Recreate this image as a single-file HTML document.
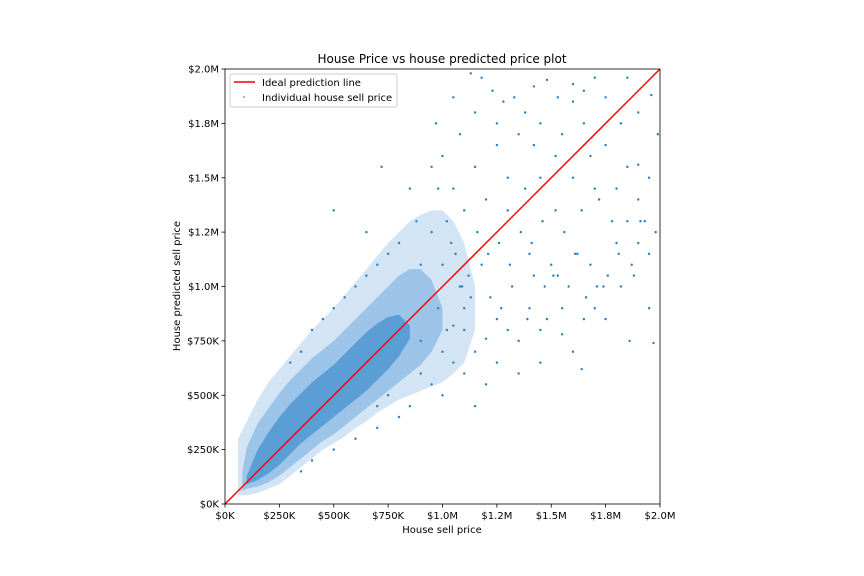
<!DOCTYPE html>
<html><head><meta charset="utf-8"><style>
body{margin:0;background:#fff;}
svg{display:block;font-family:"DejaVu Sans","Liberation Sans",sans-serif;}
</style></head><body>
<svg id="chart" width="864" height="576">
<text x="442" y="63" font-size="12" text-anchor="middle">House Price vs house predicted price plot</text>
<g id="marks"></g>
<g id="axes"></g>
<text x="442" y="533" font-size="10" text-anchor="middle">House sell price</text>
<text x="0" y="0" font-size="10" text-anchor="middle" transform="translate(180,286) rotate(-90)">House predicted sell price</text>
<g>
<rect x="230" y="74" width="167" height="33" rx="2" fill="#fff" fill-opacity="0.85" stroke="#ccc"/>
<line x1="234" y1="82" x2="255" y2="82" stroke="#ff0000" stroke-width="1.5"/>
<text x="262" y="86" font-size="10">Ideal prediction line</text>
<circle cx="244" cy="97" r="0.8" fill="#1f77b4"/>
<text x="262" y="101" font-size="10">Individual house sell price</text>
</g>
</svg>
<script>
const tickValues=[0,250,500,750,1000,1250,1500,1750,2000];
const tickLabels=["$0K","$250K","$500K","$750K","$1.0M","$1.2M","$1.5M","$1.8M","$2.0M"];
const faintX=[60,100,150,200,250,300,350,400,450,500,550,600,650,700,750,800,850,900,950,1000,1050,1100,1150];
const faintLo=[40,40,50,70,90,130,170,210,250,280,310,350,380,420,450,480,500,520,540,560,600,650,800];
const faintHi=[300,380,480,560,620,680,740,800,850,900,960,1020,1080,1140,1200,1250,1300,1330,1350,1350,1300,1200,1000];
const medX=[80,100,150,200,250,300,350,400,450,500,550,600,650,700,750,800,850,900,950,1000];
const medLo=[60,70,80,100,130,170,210,250,290,320,360,400,440,480,520,560,600,640,700,800];
const medHi=[150,260,370,440,510,570,620,670,710,750,800,850,900,950,1000,1050,1080,1080,1030,900];
const denseX=[100,150,200,250,300,350,400,450,500,550,600,650,700,750,800,850];
const denseLo=[90,110,140,180,230,280,320,360,400,440,480,520,570,620,680,760];
const denseHi=[130,250,330,400,460,510,560,600,640,690,740,790,830,860,870,820];
const pointX=[1050,1130,1180,1230,1280,1330,1380,1420,1480,1530,1600,1650,1700,1750,1850,1900,1960,1990,1950,1900,1850,1800,1930,1980,1870,1760,1700,1820,1950,1970,1860,1750,1640,1550,1480,1400,1300,1200,1100,1050,1150,1250,1350,1450,1600,1680,1580,1500,1420,1320,1220,1120,1060,1160,1260,1360,1460,1560,1640,1720,1800,1680,1600,1520,1450,1380,1300,1200,1100,1020,980,1000,1080,1150,1250,1350,1420,1550,1650,1750,1850,1900,1820,1700,1620,1520,1400,1300,1180,1080,1000,950,900,880,800,750,700,650,600,550,500,450,400,350,300,500,650,720,850,950,1050,1000,950,900,1100,1200,1150,1050,850,800,700,600,500,400,350,700,750,900,1000,1100,1250,1350,1450,1550,1650,1950,1900,1780,1600,1450,1250,1150,970,1040,1090,1210,1310,1410,1510,1610,1710,1810,1910,980,1020,1130,1270,1390,1470,1530,1660,1740,1880];
const pointY=[1870,1980,1960,1900,1850,1870,1800,1920,1950,1870,1930,1900,1960,1870,1960,1800,1880,1700,1500,1560,1300,1200,1300,1250,1100,1050,900,1000,1150,740,750,850,620,780,850,900,800,760,900,820,700,650,600,650,700,1100,1000,1100,1050,1000,950,1050,1150,1250,1200,1250,1300,1250,1350,1400,1450,1600,1500,1600,1500,1450,1500,1400,1350,1300,1450,1600,1700,1550,1650,1700,1650,1700,1750,1650,1550,1400,1750,1450,1150,1350,1150,1350,1100,1000,1100,1250,1100,1300,1200,1150,1100,1050,1000,950,900,850,800,700,650,1350,1250,1550,1450,1550,1450,500,550,600,600,550,450,650,450,400,350,300,250,200,150,450,500,750,700,800,850,750,800,900,850,900,1200,1300,1850,1750,1750,1800,1750,1200,1000,1150,1100,1200,1050,1150,1000,1150,1300,900,800,950,900,850,1000,1050,950,1000,1050];
const X0=225,X1=660,Y0=504,Y1=69,MAX=2000;
const sx=v=>X0+(X1-X0)*v/MAX, sy=v=>Y0-(Y0-Y1)*v/MAX;
const NS="http://www.w3.org/2000/svg";
const marks=document.getElementById('marks'), axes=document.getElementById('axes');
function mk(tag,attrs,parent){const e=document.createElementNS(NS,tag);for(const k in attrs)e.setAttribute(k,attrs[k]);parent.appendChild(e);return e;}
function band(xs,lo,hi,fill,name){
  let d="M"+xs.map((x,i)=>sx(x)+","+sy(hi[i])).join(" L");
  d+=" L"+xs.slice().reverse().map((x,j)=>{const i=xs.length-1-j;return sx(x)+","+sy(lo[i]);}).join(" L")+"Z";
  const p=mk('path',{d:d,fill:fill,"stroke-linejoin":"round"},marks);
  
  
}
band(faintX,faintLo,faintHi,"#d3e5f4","density-band-faint");
band(medX,medLo,medHi,"#9cc4e8","density-band-medium");
band(denseX,denseLo,denseHi,"#5b9ed6","density-band-dense");
for(let i=0;i<pointX.length;i++){
  const c=mk('circle',{cx:sx(pointX[i]),cy:sy(pointY[i]),r:1.2,fill:"#2a7fc0"},marks);
  
  
}
const ideal=mk('line',{x1:sx(0),y1:sy(0),x2:sx(MAX),y2:sy(MAX),stroke:"#ff0000","stroke-width":1.5},marks);


const frame=mk('rect',{x:X0,y:Y1,width:X1-X0,height:Y0-Y1,fill:"none",stroke:"#000","stroke-width":0.8},axes);


tickValues.forEach((v,i)=>{
  mk('line',{x1:sx(v),y1:Y0,x2:sx(v),y2:Y0+3.5,stroke:"#000","stroke-width":0.8},axes);
  const tx=mk('text',{x:sx(v),y:Y0+15,"font-size":10,"text-anchor":"middle"},axes);
  tx.textContent=tickLabels[i];
  
  
  mk('line',{x1:X0-3.5,y1:sy(v),x2:X0,y2:sy(v),stroke:"#000","stroke-width":0.8},axes);
  const ty=mk('text',{x:X0-6,y:sy(v)+3.5,"font-size":10,"text-anchor":"end"},axes);
  ty.textContent=tickLabels[i];
  
  
});
</script>
</body></html>
